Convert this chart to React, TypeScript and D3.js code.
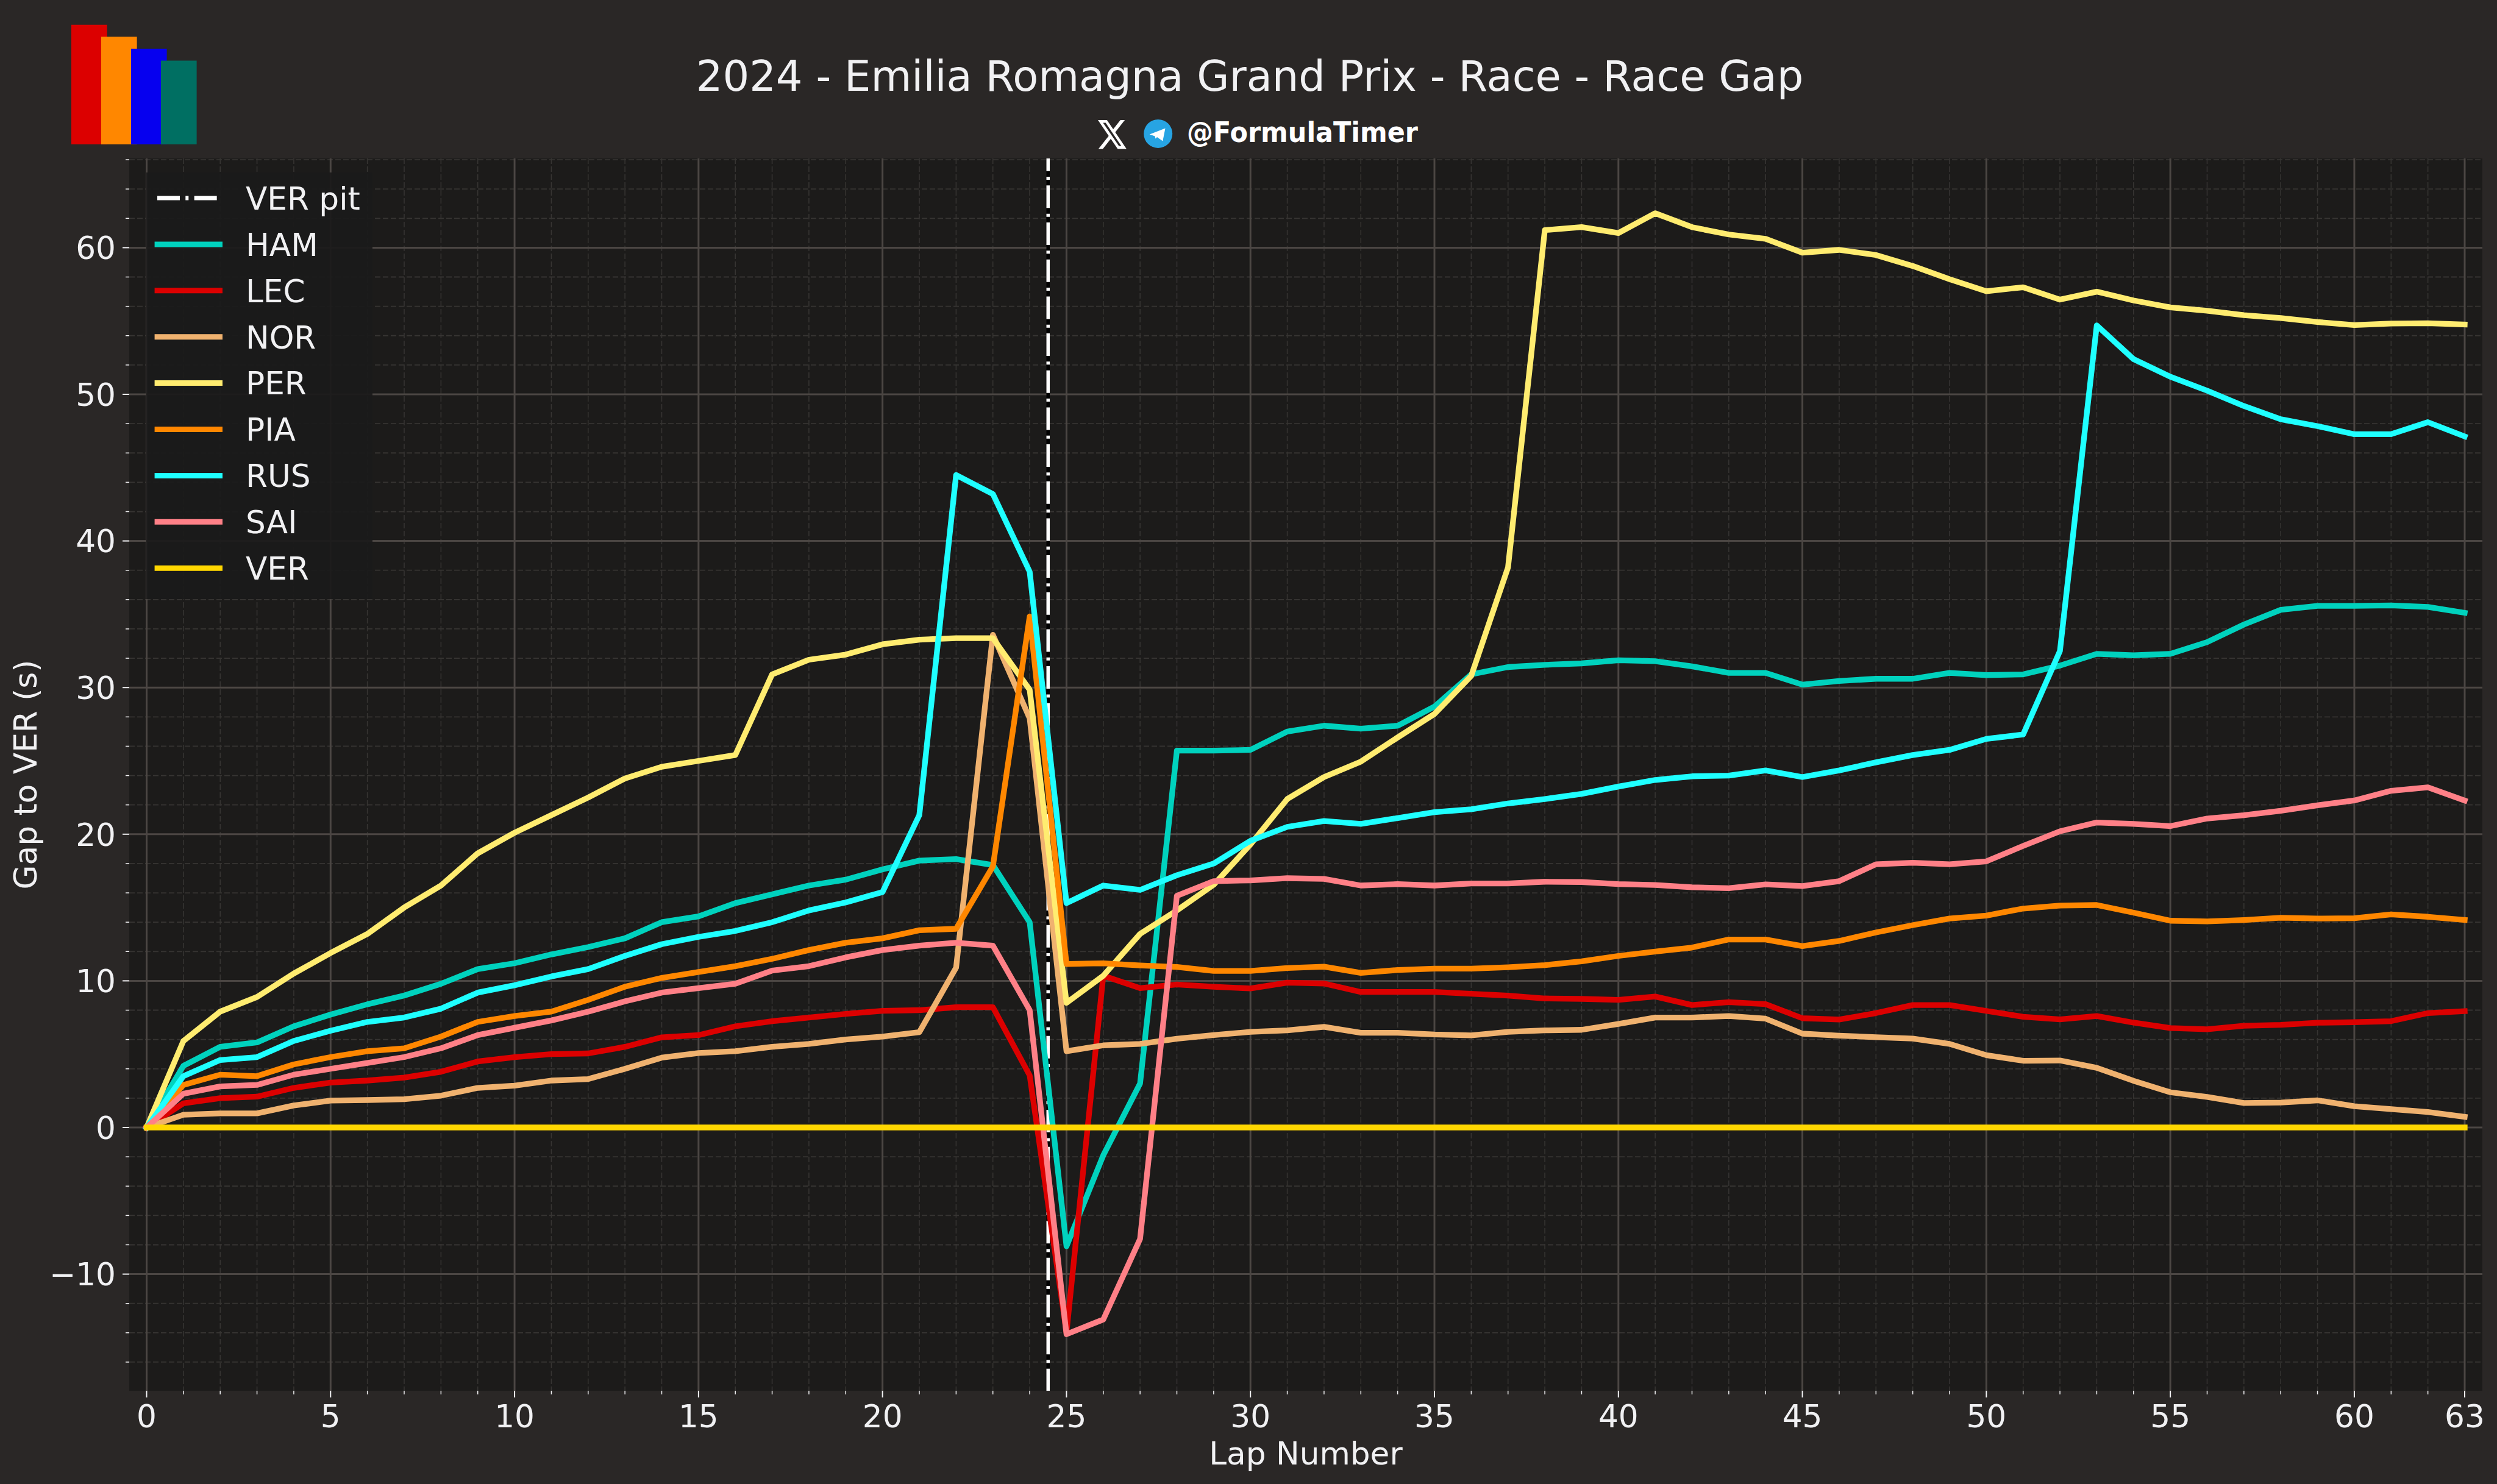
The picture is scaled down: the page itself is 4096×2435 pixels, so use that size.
import React from "react";
import * as d3 from "d3";

const W = 4096, H = 2435;
const FONT = "'DejaVu Sans', sans-serif";

const HAM = [0,4.2,5.5,5.8,6.9,7.7,8.4,9.0,9.8,10.8,11.2,11.8,12.3,12.9,14.0,14.4,15.3,15.9,16.5,16.9,17.6,18.2,18.3,17.9,14.0,-8.1,-1.9,3.0,25.7,25.7,25.75,27.0,27.4,27.2,27.4,28.7,30.9,31.4,31.55,31.65,31.86,31.8,31.45,31.0,31.0,30.2,30.45,30.6,30.6,31.0,30.85,30.9,31.5,32.3,32.2,32.3,33.1,34.3,35.3,35.57,35.57,35.6,35.5,35.1];
const LEC = [0,1.65,2.0,2.1,2.7,3.06,3.2,3.4,3.8,4.5,4.8,5.0,5.05,5.5,6.15,6.3,6.9,7.25,7.5,7.75,7.95,8.0,8.2,8.2,3.55,-14.0,10.35,9.5,9.75,9.6,9.48,9.88,9.82,9.24,9.24,9.24,9.12,8.99,8.8,8.77,8.7,8.93,8.35,8.55,8.41,7.45,7.36,7.8,8.35,8.35,7.95,7.55,7.37,7.6,7.15,6.78,6.7,6.94,7.0,7.14,7.18,7.25,7.8,7.93];
const NOR = [0,0.87,0.96,0.96,1.5,1.83,1.87,1.93,2.17,2.7,2.85,3.2,3.3,4.0,4.76,5.08,5.2,5.5,5.7,6.0,6.2,6.5,10.9,33.6,27.9,5.2,5.6,5.7,6.05,6.3,6.52,6.62,6.86,6.46,6.46,6.34,6.28,6.52,6.62,6.66,7.06,7.5,7.5,7.6,7.42,6.4,6.26,6.16,6.06,5.7,4.93,4.55,4.57,4.07,3.18,2.4,2.08,1.67,1.7,1.85,1.45,1.25,1.05,0.73];
const PER = [0,5.9,7.9,8.9,10.5,11.9,13.2,15.0,16.5,18.7,20.1,21.3,22.5,23.8,24.6,25.0,25.4,30.9,31.9,32.25,32.95,33.27,33.37,33.37,29.85,8.5,10.35,13.2,14.8,16.55,19.3,22.4,23.9,24.95,26.6,28.2,30.8,38.2,61.2,61.4,61.0,62.35,61.4,60.9,60.6,59.66,59.85,59.5,58.75,57.85,57.03,57.3,56.46,57.0,56.4,55.93,55.7,55.4,55.2,54.93,54.72,54.83,54.85,54.76];
const PIA = [0,2.9,3.6,3.5,4.3,4.8,5.2,5.4,6.2,7.2,7.6,7.9,8.7,9.6,10.2,10.6,11.0,11.5,12.1,12.6,12.9,13.45,13.55,17.8,34.85,11.15,11.2,11.05,10.95,10.68,10.68,10.87,10.97,10.54,10.74,10.83,10.83,10.93,11.07,11.33,11.7,12.0,12.27,12.82,12.82,12.37,12.72,13.3,13.8,14.25,14.45,14.93,15.13,15.17,14.65,14.1,14.05,14.15,14.3,14.25,14.27,14.53,14.37,14.15];
const RUS = [0,3.5,4.6,4.8,5.9,6.6,7.2,7.5,8.1,9.2,9.7,10.3,10.8,11.7,12.5,13.0,13.4,14.0,14.8,15.35,16.05,21.3,44.5,43.2,37.9,15.3,16.5,16.2,17.2,18.0,19.55,20.5,20.9,20.7,21.1,21.5,21.7,22.1,22.4,22.75,23.25,23.7,23.95,24.0,24.35,23.9,24.35,24.9,25.4,25.75,26.5,26.8,32.5,54.7,52.4,51.2,50.25,49.2,48.3,47.83,47.28,47.28,48.1,47.13];
const SAI = [0,2.3,2.8,2.9,3.6,4.0,4.4,4.8,5.4,6.3,6.8,7.3,7.9,8.6,9.2,9.5,9.8,10.7,11.0,11.6,12.1,12.4,12.6,12.4,8.0,-14.1,-13.1,-7.6,15.8,16.8,16.85,17.0,16.95,16.5,16.6,16.5,16.64,16.64,16.76,16.74,16.6,16.54,16.38,16.32,16.58,16.46,16.8,17.95,18.05,17.95,18.15,19.2,20.2,20.8,20.7,20.55,21.07,21.3,21.6,21.97,22.3,22.96,23.2,22.3];
const VER = Array.from({ length: 64 }, () => 0);

const DRIVERS = ["HAM", "LEC", "NOR", "PER", "PIA", "RUS", "SAI", "VER"];
const SERIES = [HAM, LEC, NOR, PER, PIA, RUS, SAI, VER];
const COLORS = ["#00D2BE", "#DC0000", "#F0B26F", "#FFEC70", "#FF8700", "#1FFFFF", "#FF8087", "#FFD700"];
const LOGO_COLORS = ["#DC0000", "#FF8700", "#0600EF", "#006F62"];

const X_MAJOR = [0, 5, 10, 15, 20, 25, 30, 35, 40, 45, 50, 55, 60, 63];
const X_MINOR = d3.range(1, 63).filter((l) => !X_MAJOR.includes(l));
const Y_MAJOR = [-10, 0, 10, 20, 30, 40, 50, 60];
const Y_MINOR = d3.range(-16, 67, 2).filter((v) => !Y_MAJOR.includes(v));
const VER_PIT = 24.5;

const LEFT = 212, RIGHT = 4072, TOP = 260, BOTTOM = 2282;
const x = d3.scaleLinear().domain([0, 63]).range([240.5, 4043]);
const y = d3.scaleLinear().domain([0, 60]).range([1850, 406.4]);

const BG = "#2A2726";
const AX = "#1C1B1A";
const GRID = "#4B4643";
const MINOR = "#363432";
const TXT = "#F1F1F3";
const TICK = 51.7;

const LEGEND_Y = (i: number) => 325 + i * 75.9;

export default function App() {
  const line = d3.line<number>().x((_, i) => x(i)).y((v) => y(v));
  return (
    <svg width={W} height={H} viewBox={`0 0 ${W} ${H}`} style={{ position: "absolute", left: 0, top: 0, display: "block" }} fontFamily={FONT}>
      <rect width={W} height={H} fill={BG} />
      {LOGO_COLORS.map((c, i) => (
        <rect key={c} x={117 + i * 49} y={40.7 + i * 19.6} width={58.6} height={196 - i * 19.6} fill={c} />
      ))}
      <text x={2050} y={149} fontSize={68.7} fill={TXT} textAnchor="middle">2024 - Emilia Romagna Grand Prix - Race - Race Gap</text>
      <g transform="translate(1798.3,191.5) scale(2.17,2.43)">
        <path d="M18.244 2.25h3.308l-7.227 8.26 8.502 11.24H16.17l-5.214-6.817L4.99 21.75H1.68l7.73-8.835L1.254 2.25H8.08l4.713 6.231zm-1.161 17.52h1.833L7.084 4.126H5.117z" fill="#FFFFFF" />
      </g>
      <circle cx={1899.7} cy={219.4} r={23.5} fill="#27A4E3" />
      <path d="M1885.7 220.5L1911.5 210.5L1907.3 231.5L1898 225L1895.5 227.5L1894.5 223.5Z" fill="#FFFFFF" />
      <text x={1947} y={233} fontSize={46} fontWeight="bold" fill="#FFFFFF" textLength={379} lengthAdjust="spacingAndGlyphs">@FormulaTimer</text>

      <rect x={LEFT} y={TOP} width={RIGHT - LEFT} height={BOTTOM - TOP} fill={AX} />
      {X_MINOR.map((l) => (
        <line key={l} x1={x(l)} x2={x(l)} y1={TOP} y2={BOTTOM} stroke={MINOR} strokeWidth={1.6} strokeDasharray="9 4" />
      ))}
      {Y_MINOR.map((v) => (
        <line key={v} x1={LEFT} x2={RIGHT} y1={y(v)} y2={y(v)} stroke={MINOR} strokeWidth={1.8} strokeDasharray="9 4" />
      ))}
      {X_MAJOR.map((l) => (
        <line key={l} x1={x(l)} x2={x(l)} y1={TOP} y2={BOTTOM} stroke={GRID} strokeWidth={3} />
      ))}
      {Y_MAJOR.map((v) => (
        <line key={v} x1={LEFT} x2={RIGHT} y1={y(v)} y2={y(v)} stroke={GRID} strokeWidth={3} />
      ))}

      <line x1={x(VER_PIT)} x2={x(VER_PIT)} y1={TOP} y2={BOTTOM} stroke="#000000" strokeWidth={5.5} />
      <line x1={x(VER_PIT)} x2={x(VER_PIT)} y1={TOP} y2={BOTTOM} stroke="#FFFFFF" strokeWidth={5.5} strokeDasharray="37 9.3 5 9.37" strokeDashoffset={16.3} />

      {SERIES.map((s, i) => (
        <path key={DRIVERS[i]} d={line(s) ?? ""} fill="none" stroke={COLORS[i]} strokeWidth={9.3} strokeLinejoin="round" strokeLinecap="square" />
      ))}

      {X_MAJOR.map((l) => (
        <g key={l}>
          <line x1={x(l)} x2={x(l)} y1={BOTTOM} y2={BOTTOM + 11} stroke={TXT} strokeWidth={2} />
          <text x={x(l)} y={2342} fontSize={TICK} fill={TXT} textAnchor="middle">{l}</text>
        </g>
      ))}
      {X_MINOR.map((l) => (
        <line key={l} x1={x(l)} x2={x(l)} y1={BOTTOM} y2={BOTTOM + 6} stroke={TXT} strokeWidth={1.5} />
      ))}
      {Y_MAJOR.map((v) => (
        <g key={v}>
          <line x1={LEFT} x2={LEFT - 11} y1={y(v)} y2={y(v)} stroke={TXT} strokeWidth={2} />
          <text x={190} y={y(v)} dy="0.364em" fontSize={TICK} fill={TXT} textAnchor="end">{v < 0 ? `\u2212${Math.abs(v)}` : v}</text>
        </g>
      ))}
      {Y_MINOR.map((v) => (
        <line key={v} x1={LEFT} x2={LEFT - 6} y1={y(v)} y2={y(v)} stroke={TXT} strokeWidth={1.5} />
      ))}

      <text x={2142} y={2403} fontSize={TICK} fill={TXT} textAnchor="middle">Lap Number</text>
      <text transform="translate(60,1271) rotate(-90)" fontSize={TICK} fill={TXT} textAnchor="middle">Gap to VER (s)</text>

      <rect x={240} y={283} width={371} height={700} fill="#1A1A1A" fillOpacity={0.92} />
      <line x1={258} x2={356} y1={LEGEND_Y(0)} y2={LEGEND_Y(0)} stroke="#FFFFFF" strokeWidth={7} strokeDasharray="37 9.3 5 9.37" />
      <text x={403} y={LEGEND_Y(0)} dy="0.364em" fontSize={TICK} fill={TXT}>VER pit</text>
      {DRIVERS.map((d, i) => (
        <g key={d}>
          <line x1={253.6} x2={365} y1={LEGEND_Y(i + 1)} y2={LEGEND_Y(i + 1)} stroke={COLORS[i]} strokeWidth={9} />
          <text x={403} y={LEGEND_Y(i + 1)} dy="0.364em" fontSize={TICK} fill={TXT}>{d}</text>
        </g>
      ))}
    </svg>
  );
}
